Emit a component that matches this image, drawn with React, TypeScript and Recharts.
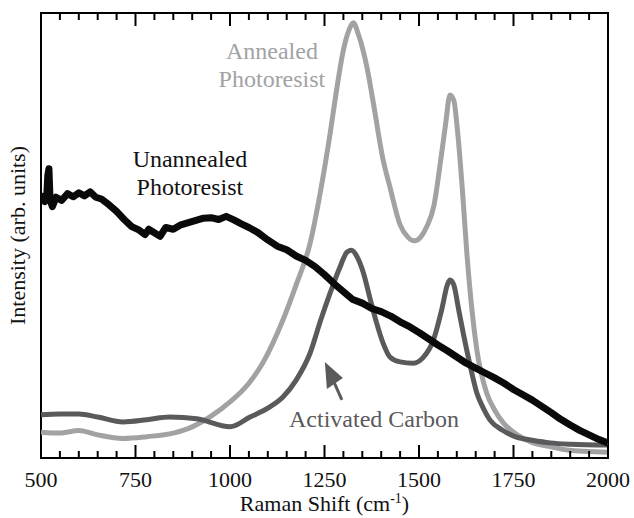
import React from 'react';
import {
  LineChart,
  Line,
  XAxis,
  YAxis,
  ReferenceArea,
  ReferenceDot,
} from 'recharts';

// Raman spectra, intensity in arbitrary units (0-100 over the plot height)
const unannealedShift = [
  500, 505, 510, 515, 518, 521, 524, 530, 540, 555, 570, 585, 600, 615, 630, 645, 660, 680,
  700, 720, 740, 760, 775, 785, 800, 815, 830, 850, 870, 890, 910, 930, 950, 970, 990, 1010,
  1030, 1050, 1075, 1100, 1125, 1150, 1175, 1200, 1225, 1250, 1275, 1300, 1325, 1350, 1375,
  1400, 1425, 1450, 1475, 1500, 1525, 1550, 1575, 1600, 1625, 1650, 1675, 1700, 1725, 1750,
  1775, 1800, 1825, 1850, 1875, 1900, 1925, 1950, 1975, 2000,
];
const unannealedIntensity = [
  57.5, 58.8, 57.6, 58.5, 63.5, 65.0, 58.0, 56.5, 58.6, 57.9, 59.4, 58.7, 59.6, 58.9, 59.8, 58.6,
  58.2, 56.9, 55.4, 53.6, 52.0, 51.2, 50.2, 51.4, 50.6, 49.8, 51.8, 51.4, 52.4, 52.9, 53.4, 53.9,
  54.0, 53.6, 54.3, 53.5, 52.6, 51.8, 50.6, 49.0, 47.6, 46.8, 45.4, 44.4, 43.0, 41.2, 39.2, 37.4,
  35.6, 34.8, 33.6, 32.9, 31.9, 30.6, 29.5, 28.2, 26.8, 25.4, 24.1, 22.7, 21.3, 20.2, 19.1, 18.0,
  16.8, 15.4, 14.2, 13.0, 11.6, 10.2, 8.7, 7.4, 6.2, 5.2, 4.2, 3.4,
];

const annealedShift = [
  500, 550, 600, 650, 717, 780, 850, 900, 950, 1000, 1050, 1087, 1140, 1175, 1212, 1240, 1265,
  1280, 1300, 1315, 1326, 1340, 1362, 1378, 1405, 1423, 1450, 1470, 1487, 1505, 1520, 1540,
  1555, 1570, 1582, 1592, 1603, 1615, 1626, 1640, 1653, 1679, 1700, 1723, 1760, 1802, 1850,
  1891, 2000,
];
const annealedIntensity = [
  5.8, 5.6, 6.2, 5.2, 4.4, 4.8, 5.6, 7.0, 9.4, 12.6, 16.8, 21.4, 31.0, 38.9, 48.3, 60.2, 73.0,
  81.6, 91.7, 96.2, 97.8, 95.1, 87.9, 80.4, 67.0, 60.9, 52.4, 49.7, 48.8, 49.7, 51.9, 56.9,
  65.4, 74.8, 81.6, 80.4, 72.5, 60.0, 46.7, 33.3, 24.3, 14.6, 10.8, 7.9, 5.2, 3.4, 2.5, 1.8,
  1.3,
];

const carbonShift = [
  500, 550, 600, 650, 717, 780, 841, 912, 1000, 1053, 1100, 1140, 1175, 1212, 1240, 1265, 1290,
  1310, 1322, 1335, 1353, 1370, 1388, 1405, 1423, 1450, 1485, 1510, 1538, 1560, 1575, 1582,
  1592, 1605, 1617, 1635, 1653, 1670, 1688, 1720, 1758, 1800, 1847, 1900, 2000,
];
const carbonIntensity = [
  9.7, 9.9, 9.9, 9.2, 8.1, 8.6, 9.2, 8.8, 7.0, 9.2, 11.2, 13.7, 17.5, 23.6, 31.0, 37.1, 42.7,
  46.3, 46.7, 45.4, 41.6, 36.0, 30.3, 25.8, 22.7, 21.6, 21.3, 22.5, 26.5, 33.3, 38.9, 40.0,
  38.9, 33.3, 28.1, 20.9, 14.6, 11.2, 8.5, 6.3, 4.7, 4.0, 3.4, 3.1, 2.9,
];

const xTicks = Array.from({ length: 31 }, (_, i) => 500 + i * 50);
const majorStep = 250;

const toPoints = (xs: number[], ys: number[]) => xs.map((x, i) => ({ x, y: ys[i] }));

const unannealedData = toPoints(unannealedShift, unannealedIntensity);
const annealedData = toPoints(annealedShift, annealedIntensity);
const carbonData = toPoints(carbonShift, carbonIntensity);

const FONT =
  "'Liberation Serif', 'Tinos', 'DejaVu Serif', 'Noto Serif', 'FreeSerif', 'Times New Roman', Times, serif";
const BLACK = '#0a0a0a';
const LIGHT = '#a2a2a4';
const DARK = '#5a5a5c';

const BottomTick = (props: any) => {
  const { x, y, payload } = props;
  const major = payload.value % majorStep === 0;
  return (
    <g>
      <line x1={x} x2={x} y1={y} y2={y - (major ? 13 : 7)} stroke="#000" strokeWidth={2} />
      {major && (
        <text x={x} y={y + 29} textAnchor="middle" fontSize={22} style={{ fontFamily: FONT }} fill="#111">
          {payload.value}
        </text>
      )}
    </g>
  );
};

const TopTick = (props: any) => {
  const { x, y, payload } = props;
  const major = payload.value % majorStep === 0;
  return <line x1={x} x2={x} y1={y} y2={y + (major ? 13 : 7)} stroke="#000" strokeWidth={2} />;
};

const TwoLineLabel = (lines: string[], color: string) => (p: any) => (
  <text x={p.cx} y={p.cy} textAnchor="middle" fontSize={24} style={{ fontFamily: FONT }} fill={color}>
    {lines.map((l, i) => (
      <tspan key={i} x={p.cx} dy={i === 0 ? 0 : 28}>
        {l}
      </tspan>
    ))}
  </text>
);

const ArrowShape = (p: any) => {
  const tx = p.cx;
  const ty = p.cy;
  return (
    <g>
      <line x1={tx + 9} y1={ty + 20} x2={tx + 17} y2={ty + 38} stroke={DARK} strokeWidth={3} />
      <polygon points={`${tx},${ty} ${tx + 18},${ty + 16} ${tx + 2},${ty + 27}`} fill={DARK} />
    </g>
  );
};

export default function App() {
  return (
    <div style={{ position: 'absolute', left: 0, top: 0, background: '#fff', fontFamily: FONT }}>
      <LineChart width={634} height={518} margin={{ top: 12, right: 26, bottom: 0, left: 0 }}>
        <XAxis
          dataKey="x"
          type="number"
          domain={[500, 2000]}
          ticks={xTicks}
          interval={0}
          allowDataOverflow
          height={60}
          tickSize={0}
          tickMargin={0}
          tickLine={false}
          axisLine={false}
          tick={<BottomTick />}
          label={{
            content: (p: any) => {
              const vb = p.viewBox;
              const cx = vb.x + vb.width / 2;
              return (
                <text x={cx} y={511} textAnchor="middle" fontSize={22} style={{ fontFamily: FONT }} fill="#111">
                  <tspan>Raman Shift (cm</tspan>
                  <tspan dy={-8} fontSize={14}>-1</tspan>
                  <tspan dy={8}>)</tspan>
                </text>
              );
            },
          }}
        />
        <XAxis
          xAxisId="top"
          orientation="top"
          dataKey="x"
          type="number"
          domain={[500, 2000]}
          ticks={xTicks}
          interval={0}
          allowDataOverflow
          height={1}
          tickSize={0}
          tickMargin={0}
          tickLine={false}
          axisLine={false}
          tick={<TopTick />}
        />
        <YAxis
          type="number"
          domain={[0, 100]}
          width={41}
          tick={false}
          tickLine={false}
          axisLine={false}
          allowDataOverflow
          label={{
            content: (p: any) => {
              const vb = p.viewBox;
              const cy = vb.y + vb.height / 2;
              return (
                <text
                  x={25}
                  y={cy}
                  transform={`rotate(-90, 25, ${cy})`}
                  textAnchor="middle"
                  fontSize={22}
                  style={{ fontFamily: FONT }}
                  fill="#111"
                >
                  Intensity (arb. units)
                </text>
              );
            },
          }}
        />
        <ReferenceArea
          x1={500}
          x2={2000}
          y1={0}
          y2={100}
          fill="none"
          stroke="#000"
          strokeWidth={2}
          ifOverflow="visible"
        />
        <Line
          data={annealedData}
          dataKey="y"
          type="monotone"
          stroke={LIGHT}
          strokeWidth={5}
          dot={false}
          isAnimationActive={false}
        />
        <Line
          data={carbonData}
          dataKey="y"
          type="monotone"
          stroke={DARK}
          strokeWidth={5}
          dot={false}
          isAnimationActive={false}
        />
        <Line
          data={unannealedData}
          dataKey="y"
          type="linear"
          stroke={BLACK}
          strokeWidth={7}
          strokeLinejoin="round"
          dot={false}
          isAnimationActive={false}
        />
        <ReferenceDot
          x={894}
          y={65.4}
          r={0}
          ifOverflow="visible"
          shape={TwoLineLabel(['Unannealed', 'Photoresist'], '#111')}
        />
        <ReferenceDot
          x={1111}
          y={89.7}
          r={0}
          ifOverflow="visible"
          shape={TwoLineLabel(['Annealed', 'Photoresist'], LIGHT)}
        />
        <ReferenceDot
          x={1381}
          y={7.0}
          r={0}
          ifOverflow="visible"
          shape={TwoLineLabel(['Activated Carbon'], DARK)}
        />
        <ReferenceDot x={1251} y={21.6} r={0} ifOverflow="visible" shape={ArrowShape} />
      </LineChart>
    </div>
  );
}
